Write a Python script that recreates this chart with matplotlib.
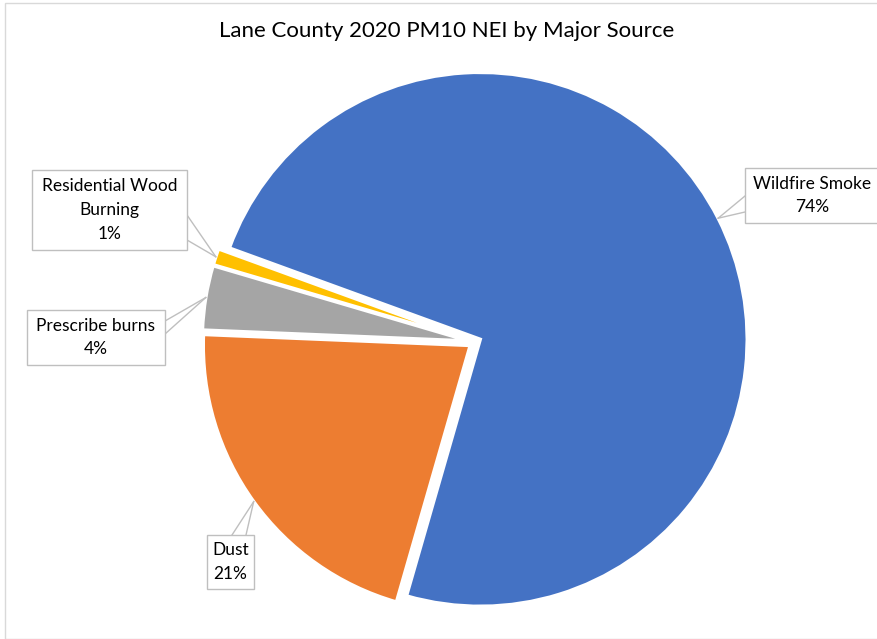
import matplotlib.pyplot as plt
import numpy as np
from matplotlib.patches import Rectangle

sources = ["Wildfire Smoke", "Dust", "Prescribe burns", "Residential Wood\nBurning"]
shares = [73.9, 21.2, 3.9, 1.0]
pct_labels = ["74%", "21%", "4%", "1%"]
colors = ["#4472C4", "#ED7D31", "#A5A5A5", "#FFC000"]

plt.rcParams["font.family"] = ["Lato", "DejaVu Sans"]

W, H = 877, 639
fig = plt.figure(figsize=(W / 100, H / 100), dpi=100)
ax = fig.add_axes([0, 0, 1, 1])

cx, cy, r = 475, H - 342, 267
# explode is in data units here, so scale it by the radius
explode = [0.022 * r] * len(shares)
wedges, _ = ax.pie(shares, colors=colors, startangle=160, counterclock=False,
                   center=(cx, cy), radius=r, explode=explode,
                   wedgeprops=dict(edgecolor="white", linewidth=2.5))
ax.set_xlim(0, W)
ax.set_ylim(0, H)
ax.set_aspect("equal")
ax.axis("off")

fig.text(447 / W, 1 - 31 / H, "Lane County 2020 PM10 NEI by Major Source",
         ha="center", va="center", fontsize=16, color="#000000")

# label boxes (left, top, right, bottom in pixels, y down) and where the pointer leaves the box
boxes = [
    (745, 168, 880, 223),
    (207, 535, 254, 589),
    (27, 310, 165, 365),
    (32, 170, 187, 250),
]
bases = [
    [(745, 196), (745, 212)],
    [(232, 535), (246, 535)],
    [(165, 321), (165, 334)],
    [(187, 215), (187, 240)],
]

edge = "#BFBFBF"
for w, name, pct, (l, t, rr, b), base in zip(wedges, sources, pct_labels, boxes, bases):
    mid = np.deg2rad((w.theta1 + w.theta2) / 2)
    wx, wy = w.center
    tip = (wx + w.r * np.cos(mid), wy + w.r * np.sin(mid))
    for bx, by in base:
        ax.plot([bx, tip[0]], [H - by, tip[1]], color=edge, lw=1, zorder=3)
    ax.add_patch(Rectangle((l, H - b), rr - l, b - t, facecolor="white",
                           edgecolor=edge, lw=1, zorder=4, clip_on=False))
    tx = (l + rr) / 2 if rr < W else 812
    ax.text(tx, H - (t + b) / 2, name + "\n" + pct, ha="center", va="center",
            fontsize=12.5, linespacing=1.6, zorder=5)

# chart border
fig.patches.append(Rectangle((5 / W, 0), 1, 1 - 3 / H, transform=fig.transFigure,
                             fill=False, edgecolor="#D9D9D9", lw=1))

fig.savefig("out.png", dpi=100)
